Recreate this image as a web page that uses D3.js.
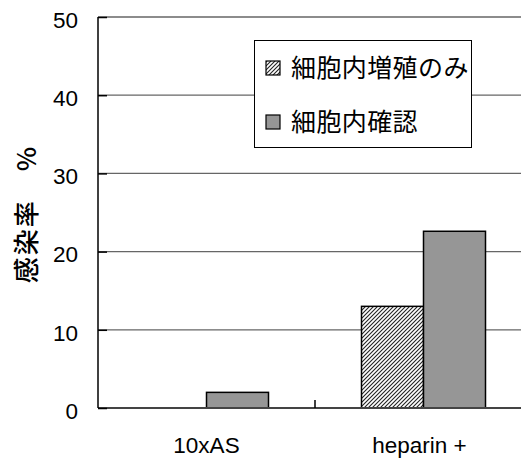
<!DOCTYPE html>
<html><head><meta charset="utf-8">
<script src="https://cdn.jsdelivr.net/npm/d3@7"></script>
<style>body{margin:0;background:#fff}</style>
</head><body>
<svg id="c" width="521" height="459"></svg>
<script>
const categories = ["10xAS", "heparin +"];
const seriesNames = ["細胞内増殖のみ", "細胞内確認"];
const growthOnly = [0, 13];
const confirmed = [2, 22.6];
const yTicks = [0, 10, 20, 30, 40, 50];
const yLabel = "感染率　%";

const svg = d3.select("#c");
const L = 98, R = 532, T = 17, B = 408;
const defs = svg.append("defs");
const pat = defs.append("pattern").attr("id","hatch").attr("patternUnits","userSpaceOnUse")
  .attr("width",4).attr("height",4);
pat.append("rect").attr("width",4).attr("height",4).attr("fill","#fff");
pat.append("path").attr("d","M-1,1 l2,-2 M0,4 l4,-4 M3,5 l2,-2").attr("stroke","#222").attr("stroke-width",1.1);

const y = d3.scaleLinear().domain([0,50]).range([B,T]);
const x = d3.scaleBand().domain(categories).range([L,R]);
const xs = d3.scaleBand().domain(seriesNames).range([0, x.bandwidth()]).paddingInner(0).paddingOuter(0.75);

// gridlines
svg.append("g").selectAll("line").data(yTicks.filter(d=>d>0)).join("line")
  .attr("x1",L).attr("x2",521).attr("y1",d=>y(d)).attr("y2",d=>y(d))
  .attr("stroke","#666").attr("stroke-width",1.3);

// bars
const fills = ["url(#hatch)", "#969696"];
const series = [growthOnly, confirmed];
series.forEach((vals,si)=>{
  svg.append("g").selectAll("rect").data(categories).join("rect")
    .attr("x",(c)=>x(c)+xs(seriesNames[si]))
    .attr("width",xs.bandwidth())
    .attr("y",(c,i)=>y(vals[i]))
    .attr("height",(c,i)=>B-y(vals[i]))
    .attr("fill",fills[si]).attr("stroke","#000").attr("stroke-width",1.5)
    .style("display",(c,i)=>vals[i]>0?null:"none");
});

// x axis
const gx = svg.append("g").attr("transform",`translate(0,${B})`);
gx.append("line").attr("x1",L).attr("x2",521).attr("y1",0).attr("y2",0).attr("stroke","#444").attr("stroke-width",2);
gx.selectAll(".sep").data(categories.slice(1)).join("line")
  .attr("x1",c=>x(c)).attr("x2",c=>x(c)).attr("y1",-8).attr("y2",0).attr("stroke","#000").attr("stroke-width",1.5);
gx.selectAll("text").data(categories).join("text")
  .attr("x",(c,i)=> i===0 ? x(c)+x.bandwidth()/2 : x(c)+x.bandwidth()/2 - 4)
  .attr("y",45).attr("text-anchor","middle")
  .attr("font-family","'Liberation Sans', Arial, sans-serif").attr("font-size",22.5).attr("fill","#000")
  .text(d=>d);

// y axis
const ya = d3.axisLeft(y).tickValues(yTicks).tickSize(-9).tickPadding(20);
const gy = svg.append("g").attr("transform",`translate(${L},0)`).call(ya);
gy.select(".domain").attr("stroke","#000").attr("stroke-width",1.5).attr("d",`M0,${T}V${B}`);
gy.selectAll(".tick line").attr("stroke","#000").attr("stroke-width",1.5);
gy.selectAll("text").attr("font-family","'Liberation Sans', Arial, sans-serif").attr("font-size",22.5)
  .attr("dy","0.46em").attr("fill","#000");

// y label
svg.append("text").attr("transform","translate(36,214) rotate(-90)").attr("text-anchor","middle")
  .attr("font-family","'Noto Sans CJK JP', sans-serif").attr("font-size",26).attr("font-weight","500")
  .attr("letter-spacing",2).attr("fill","#000")
  .text(yLabel);

// legend
const lg = svg.append("g");
lg.append("rect").attr("x",254.5).attr("y",40.5).attr("width",217).attr("height",107)
  .attr("fill","#fff").attr("stroke","#000").attr("stroke-width",1);
seriesNames.forEach((n,i)=>{
  const cy = 68 + i*54;
  lg.append("rect").attr("x",266).attr("y",cy-7).attr("width",14).attr("height",14)
    .attr("fill",fills[i]).attr("stroke","#000").attr("stroke-width",1.2);
  lg.append("text").attr("x",291).attr("y",cy+9)
    .attr("font-family","'Noto Sans CJK JP', sans-serif").attr("font-size",25).attr("letter-spacing",0.4).attr("fill","#000").text(n);
});
</script>
</body></html>
